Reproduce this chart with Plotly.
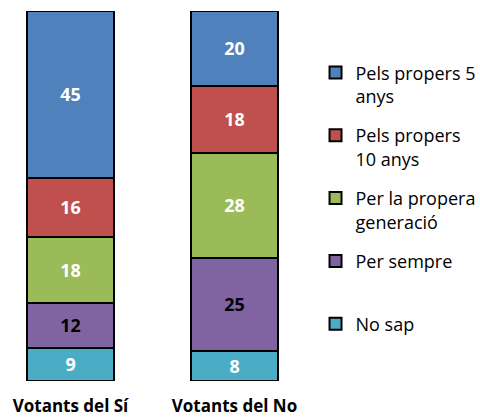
import plotly.graph_objects as go

categories = ["Votants del Sí", "Votants del No"]
series_names = ["No sap", "Per sempre", "Per la propera<br>generació", "Pels propers<br>10 anys", "Pels propers 5<br>anys"]
values_no_sap = [9, 8]
values_per_sempre = [12, 25]
values_propera_generacio = [18, 28]
values_10_anys = [16, 18]
values_5_anys = [45, 20]

series_values = [values_no_sap, values_per_sempre, values_propera_generacio, values_10_anys, values_5_anys]
colors = ["#4BACC6", "#8064A2", "#9BBB59", "#C0504D", "#4F81BD"]
text_colors = ["white", "black", "white", "white", "white"]
legend_names = [series_names[0] + "<br>\u00a0", series_names[1] + "<br>\u00a0"] + series_names[2:]

fig = go.Figure()
for i, vals in enumerate(series_values):
    fig.add_trace(go.Bar(
        x=categories, y=vals, name=legend_names[i],
        text=[str(v) for v in vals], textposition="inside", insidetextanchor="middle",
        textangle=0,
        textfont=dict(family="Open Sans", size=18, color=text_colors[i], weight="bold"),
        marker=dict(color=colors[i], line=dict(color="black", width=2)),
        width=0.53, legendgroup=str(i), legendrank=5 - i, hoverinfo="skip",
    ))

fig.update_layout(
    width=480, height=417,
    barmode="stack", barnorm="percent",
    margin=dict(l=0, r=160, t=11, b=36, autoexpand=False),
    paper_bgcolor="white", plot_bgcolor="white",
    font=dict(family="Open Sans", color="black"),
    showlegend=True,
    legend=dict(
        x=0.986, xanchor="left", y=0.883, yanchor="top",
        traceorder="grouped", tracegroupgap=13, valign="top",
        font=dict(family="Open Sans", size=18, color="black"),
        itemwidth=30, bgcolor="rgba(0,0,0,0)",
    ),
    uniformtext=dict(mode="show", minsize=10),
)
fig.update_xaxes(
    range=[-70.5 / 164, -70.5 / 164 + 320 / 164],
    showline=False, showgrid=False, zeroline=False, ticks="",
    ticklabelstandoff=13,
    tickfont=dict(family="Open Sans", size=17, color="black", weight="bold"),
)
fig.update_yaxes(range=[0, 100], visible=False)

fig.write_html("out.html", config={"displayModeBar": False},
               post_script="document.body.style.margin='0';document.body.style.overflow='hidden';")
